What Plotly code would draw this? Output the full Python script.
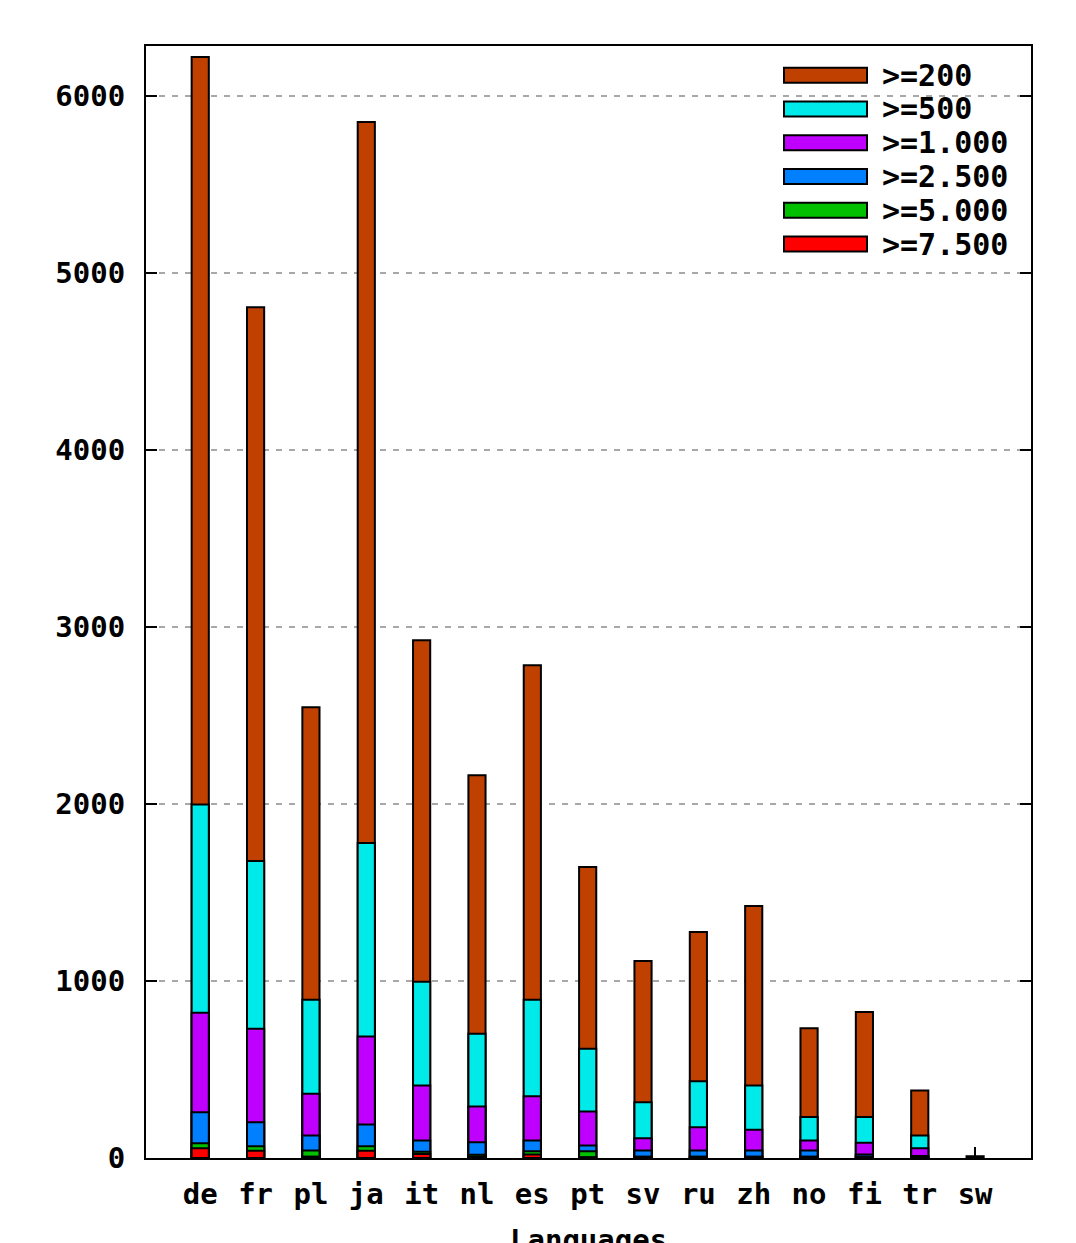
import plotly.graph_objects as go

# Articles per language wiki, counted by minimum size threshold (cumulative counts)
languages = ["de", "fr", "pl", "ja", "it", "nl", "es", "pt", "sv", "ru", "zh", "no", "fi", "tr", "sw"]

series_names = [">=200", ">=500", ">=1.000", ">=2.500", ">=5.000", ">=7.500"]

ge_200 = [6218, 4805, 2545, 5851, 2924, 2161, 2783, 1643, 1112, 1276, 1423, 733, 824, 381, 10]
ge_500 = [1997, 1678, 894, 1779, 996, 702, 894, 617, 315, 434, 410, 231, 231, 127, 0]
ge_1000 = [820, 730, 363, 686, 410, 291, 349, 263, 112, 174, 159, 99, 86, 55, 0]
ge_2500 = [259, 202, 127, 189, 99, 89, 99, 71, 42, 42, 42, 42, 20, 12, 0]
ge_5000 = [84, 67, 42, 67, 35, 18, 38, 38, 8, 8, 8, 8, 8, 4, 0]
ge_7500 = [55, 41, 8, 41, 22, 8, 20, 5, 3, 3, 3, 3, 3, 2, 0]

series_values = [ge_200, ge_500, ge_1000, ge_2500, ge_5000, ge_7500]
colors = ["#C04000", "#00EAEA", "#C000FF", "#0080FF", "#00C000", "#FF0000"]

FONT = "DejaVu Sans Mono"

fig = go.Figure()

# Larger (cumulative) counts go in the back, stricter thresholds drawn on top
for name, vals, color in zip(series_names, series_values, colors):
    fig.add_trace(go.Bar(
        x=languages,
        y=vals,
        name=name,
        width=0.31,
        marker=dict(color=color, line=dict(color="black", width=2)),
        showlegend=False,
    ))

# Hand-built legend box in the upper right corner
L, R, T, B = 146, 1031, 46, 1158
W, H = R - L, B - T


def px_x(v):
    return (v - L) / W


def px_y(v):
    return (B - v) / H


shapes = []
annotations = []
row_centers = [75.3, 109.0, 142.8, 176.5, 210.2, 244.0]
for name, color, cy in zip(series_names, colors, row_centers):
    shapes.append(dict(
        type="rect", xref="paper", yref="paper",
        x0=px_x(784), x1=px_x(867), y0=px_y(cy + 7.5), y1=px_y(cy - 7.5),
        fillcolor=color, line=dict(color="black", width=2), layer="above",
    ))
    annotations.append(dict(
        xref="paper", yref="paper", x=px_x(880), y=px_y(cy),
        xanchor="left", yanchor="middle", text=name, showarrow=False,
        font=dict(family=FONT, size=30, color="black", weight="bold"),
    ))

# Axis title below the category labels
annotations.append(dict(
    xref="paper", yref="paper", x=0.5, y=px_y(1221),
    xanchor="center", yanchor="top", text="Languages", showarrow=False,
    font=dict(family=FONT, size=29, color="black", weight="bold"),
))

fig.update_layout(
    barmode="overlay",
    width=1076,
    height=1243,
    margin=dict(l=L, r=1076 - R, t=T, b=1243 - B),
    plot_bgcolor="white",
    paper_bgcolor="white",
    font=dict(family=FONT, size=29, color="black", weight="bold"),
    shapes=shapes,
    annotations=annotations,
    showlegend=False,
)

fig.update_xaxes(
    type="category",
    range=[-0.98, 15.01],
    showline=True, linecolor="black", linewidth=2, mirror=True,
    ticks="inside", ticklen=11, tickwidth=2, tickcolor="black",
    showgrid=False, zeroline=False,
    layer="below traces",
    ticklabelstandoff=9,
)

fig.update_yaxes(
    range=[0, 6280],
    tick0=0, dtick=1000,
    showline=True, linecolor="black", linewidth=2, mirror="ticks",
    ticks="inside", ticklen=11, tickwidth=2, tickcolor="black",
    showgrid=True, gridcolor="#A8A8A8", gridwidth=1.5, griddash="6px,7px",
    zeroline=False,
    layer="below traces",
    ticklabelstandoff=13,
)

fig.write_html("out.html")
